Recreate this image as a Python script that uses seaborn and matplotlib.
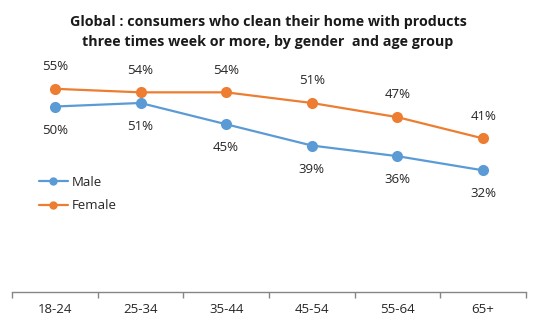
import matplotlib
matplotlib.use("Agg")
import matplotlib.pyplot as plt
import seaborn as sns
import pandas as pd
from matplotlib.ticker import FixedLocator

age_groups = ["18-24", "25-34", "35-44", "45-54", "55-64", "65+"]
male = [50, 51, 45, 39, 36, 32]
female = [55, 54, 54, 51, 47, 41]
series_names = ["Male", "Female"]
colors = ["#5B9BD5", "#ED7D31"]
title = "Global : consumers who clean their home with products\nthree times week or more, by gender  and age group"

df = pd.DataFrame({
    "age": age_groups * 2,
    "value": male + female,
    "gender": [series_names[0]] * len(age_groups) + [series_names[1]] * len(age_groups),
})

sns.set_theme(style="white")
plt.rcParams["font.family"] = ["Open Sans", "DejaVu Sans"]

fig = plt.figure(figsize=(5.44, 3.26), dpi=100)
ax = fig.add_axes([12 / 544, 1 - 292 / 326, (526 - 12) / 544, (292 - 70) / 326])

sns.lineplot(data=df, x="age", y="value", hue="gender", hue_order=series_names,
             palette=colors, marker="o", markersize=8, markeredgewidth=0,
             linewidth=1.6, sort=False, ax=ax)

ax.set_xlim(-0.5, len(age_groups) - 0.5)
ax.set_ylim(-2.3, 60.3)
ax.set_xlabel("")
ax.set_ylabel("")
ax.set_yticks([])
ax.set_xticks(range(len(age_groups)))
ax.set_xticklabels(age_groups, fontsize=9.5, color="#262626")
ax.xaxis.set_minor_locator(FixedLocator([i - 0.5 for i in range(len(age_groups) + 1)]))
ax.tick_params(axis="x", which="major", length=0, pad=8)
ax.tick_params(axis="x", which="minor", length=4, color="#868686", width=1, direction="out", bottom=True)
for s in ["top", "right", "left"]:
    ax.spines[s].set_visible(False)
ax.spines["bottom"].set_color("#868686")
ax.spines["bottom"].set_linewidth(1)

for i, v in enumerate(female):
    ax.annotate(f"{v}%", (i, v), xytext=(0, 16), textcoords="offset points",
                ha="center", va="center", fontsize=9.5, color="#262626")
for i, v in enumerate(male):
    ax.annotate(f"{v}%", (i, v), xytext=(0, -17), textcoords="offset points",
                ha="center", va="center", fontsize=9.5, color="#262626")

leg = ax.legend(loc="center left", bbox_to_anchor=(40 / 544 - 0.012, 1 - 194 / 326),
                bbox_transform=fig.transFigure, frameon=False, fontsize=9.5,
                handlelength=2.2, handletextpad=0.3, labelspacing=0.8, borderaxespad=0)
for h in leg.legend_handles:
    h.set_markersize(6)
for t in leg.get_texts():
    t.set_color("#262626")

fig.text(268 / 544, 1 - 32 / 326, title, ha="center", va="center", fontsize=10.3,
         fontweight="bold", color="#1a1a1a", linespacing=1.55)

fig.savefig("out.png", dpi=100)
